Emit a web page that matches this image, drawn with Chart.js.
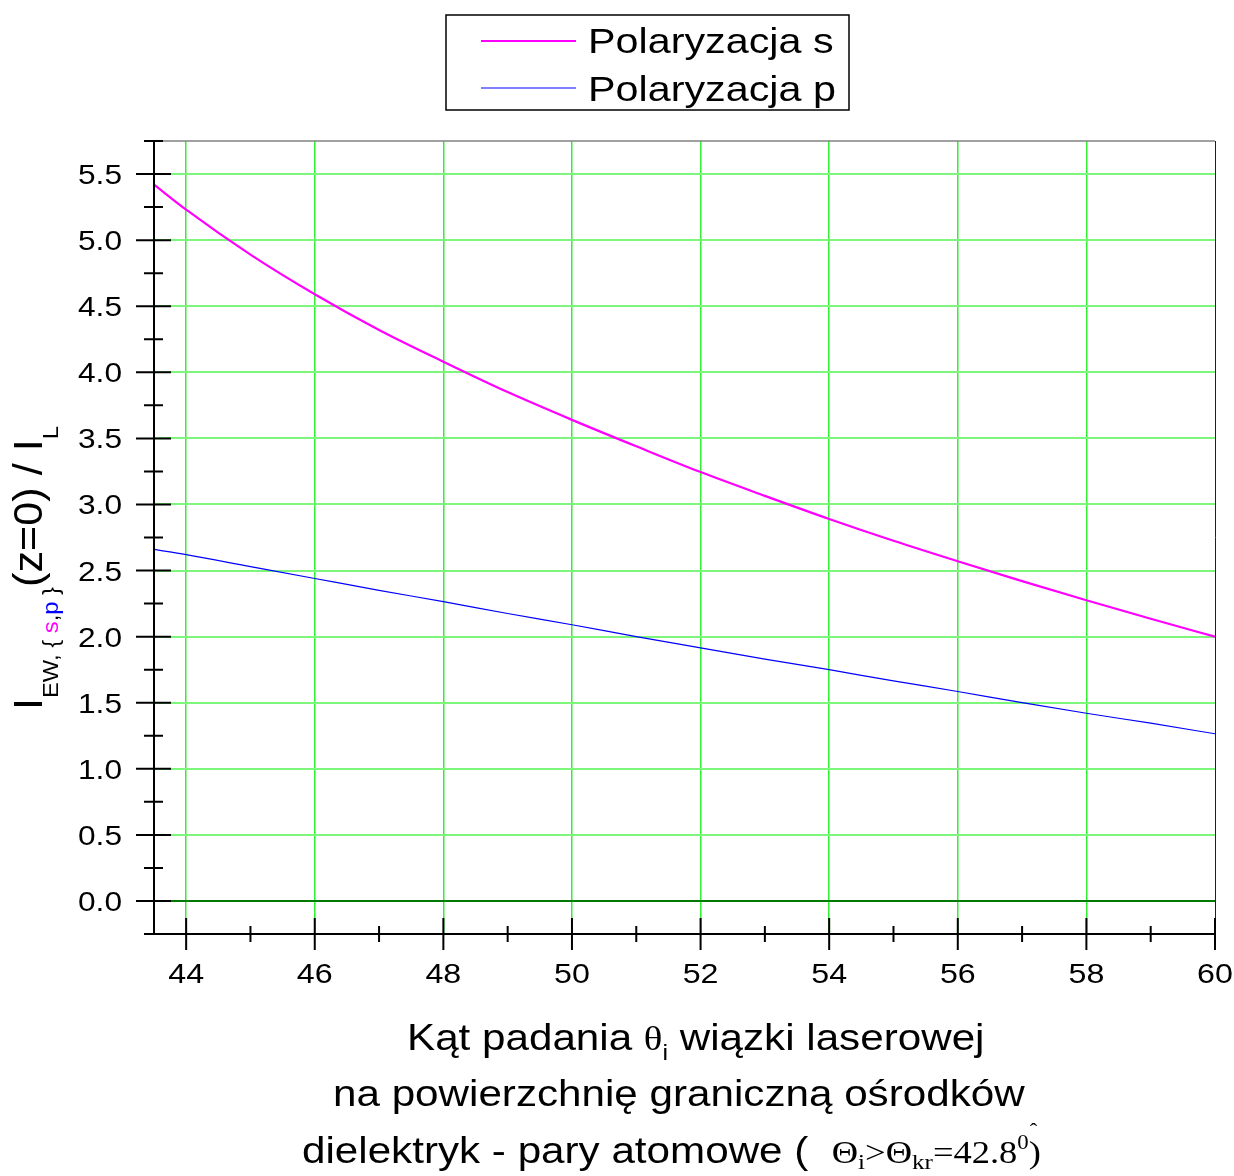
<!DOCTYPE html>
<html>
<head>
<meta charset="utf-8">
<script src="https://cdn.jsdelivr.net/npm/chart.js@4.4.1/dist/chart.umd.min.js"></script>
<style>
  html, body { margin: 0; padding: 0; background: #fff; }
  #wrap { width: 1234px; height: 1176px; }
</style>
</head>
<body>
<div id="wrap"><canvas id="chart" width="1234" height="1176"></canvas></div>
<script>
const angles = [43.5, 44, 45, 46, 47, 48, 49, 50, 51, 52, 53, 54, 55, 56, 57, 58, 59, 60];
const polS = [5.42, 5.23, 4.89, 4.59, 4.32, 4.08, 3.85, 3.64, 3.44, 3.245, 3.065, 2.89, 2.725, 2.57, 2.42, 2.275, 2.135, 2.0];
const polP = [2.66, 2.62, 2.53, 2.44, 2.35, 2.265, 2.175, 2.09, 2.0, 1.915, 1.83, 1.75, 1.665, 1.585, 1.50, 1.42, 1.345, 1.265];
const seriesNames = ['Polaryzacja s', 'Polaryzacja p'];
const xTicks = [44, 46, 48, 50, 52, 54, 56, 58, 60];
const xMinor = [45, 47, 49, 51, 53, 55, 57, 59];
const yTicks = [0, 0.5, 1, 1.5, 2, 2.5, 3, 3.5, 4, 4.5, 5, 5.5];
const yMinor = [-0.25, 0.25, 0.75, 1.25, 1.75, 2.25, 2.75, 3.25, 3.75, 4.25, 4.75, 5.25, 5.75];

const SANS = '"Liberation Sans", Arial, sans-serif';
const SERIF = '"Liberation Serif", "Times New Roman", serif';
const STRETCH = 1.14;

function runsWidth(ctx, runs) {
  let w = 0;
  for (const r of runs) { ctx.font = r[1]; w += ctx.measureText(r[0]).width; }
  return w;
}
// runs: [text, font, color, dy]; drawn with horizontal stretch sx from x
function drawRuns(ctx, runs, x, y, sx) {
  ctx.save();
  ctx.translate(x, y);
  ctx.scale(sx, 1);
  let cx = 0;
  for (const r of runs) {
    ctx.font = r[1];
    ctx.fillStyle = r[2] || '#000';
    ctx.fillText(r[0], cx, r[3] || 0);
    cx += ctx.measureText(r[0]).width;
  }
  ctx.restore();
  return x + cx * sx;
}

const decor = {
  id: 'decor',
  afterDraw(chart) {
    const { ctx, chartArea: a, scales: { x, y } } = chart;
    ctx.save();
    ctx.textBaseline = 'alphabetic';
    ctx.textAlign = 'left';
    // frame: top and right
    ctx.strokeStyle = '#808080';
    ctx.lineWidth = 1.5;
    ctx.beginPath();
    ctx.moveTo(a.left, a.top); ctx.lineTo(a.right, a.top);
    ctx.stroke();
    ctx.strokeStyle = '#202020';
    ctx.lineWidth = 1;
    ctx.beginPath();
    ctx.moveTo(a.right + 0.5, a.top); ctx.lineTo(a.right + 0.5, a.bottom);
    ctx.stroke();

    // axes and crossing ticks
    ctx.strokeStyle = '#000';
    ctx.lineWidth = 2;
    ctx.beginPath();
    ctx.moveTo(a.left, a.top); ctx.lineTo(a.left, a.bottom);
    ctx.moveTo(a.left - 10, a.bottom); ctx.lineTo(a.right + 1, a.bottom);
    for (const v of yTicks) {
      const py = y.getPixelForValue(v);
      ctx.moveTo(a.left - 18, py); ctx.lineTo(a.left + 17, py);
    }
    for (const v of yMinor) {
      const py = y.getPixelForValue(v);
      ctx.moveTo(a.left - 10, py); ctx.lineTo(a.left + 9, py);
    }
    for (const v of xTicks) {
      const px = x.getPixelForValue(v);
      ctx.moveTo(px, a.bottom - 16); ctx.lineTo(px, a.bottom + 16);
    }
    for (const v of xMinor) {
      const px = x.getPixelForValue(v);
      ctx.moveTo(px, a.bottom - 8); ctx.lineTo(px, a.bottom + 8);
    }
    ctx.stroke();

    // tick labels
    const tf = '28px ' + SANS;
    for (const v of yTicks) {
      const t = [[v.toFixed(1), tf]];
      const w = runsWidth(ctx, t) * 1.13;
      drawRuns(ctx, t, 122 - w, y.getPixelForValue(v) + 10, 1.13);
    }
    for (const v of xTicks) {
      const t = [[String(v), tf]];
      const w = runsWidth(ctx, t) * 1.15;
      drawRuns(ctx, t, x.getPixelForValue(v) - w / 2, a.bottom + 49, 1.15);
    }

    // legend
    ctx.lineWidth = 1.5;
    ctx.strokeStyle = '#000';
    ctx.strokeRect(446, 15, 403, 95);
    ctx.lineWidth = 2;
    ctx.strokeStyle = '#ff00ff';
    ctx.beginPath(); ctx.moveTo(481, 41); ctx.lineTo(576, 41); ctx.stroke();
    ctx.lineWidth = 1.2;
    ctx.strokeStyle = '#0000ff';
    ctx.beginPath(); ctx.moveTo(481, 88); ctx.lineTo(576, 88); ctx.stroke();
    const lf = '35px ' + SANS;
    drawRuns(ctx, [[seriesNames[0], lf]], 588, 53, 1.18);
    drawRuns(ctx, [[seriesNames[1], lf]], 588, 101, 1.18);

    // x axis title
    const f37 = '37px ' + SANS;
    const sub = '22px ' + SANS;
    drawRuns(ctx, [['Kąt padania ', f37], ['θ', '34px ' + SERIF], ['i', sub, '#000', 10], [' wiązki laserowej', f37]], 407, 1050, STRETCH);
    drawRuns(ctx, [['na powierzchnię graniczną ośrodków', f37]], 333, 1106, STRETCH);
    const end = drawRuns(ctx, [
      ['dielektryk - pary atomowe (  ', f37],
      ['Θ', '32px ' + SERIF], ['i', '22px ' + SERIF, '#000', 6],
      ['>', '32px ' + SERIF], ['Θ', '32px ' + SERIF], ['kr', '22px ' + SERIF, '#000', 6],
      ['=42.8', '32px ' + SERIF], ['0', '20px ' + SERIF, '#000', -14]
    ], 302, 1163, STRETCH);
    drawRuns(ctx, [['ˆ', '20px ' + SERIF]], end + 1, 1138, STRETCH);
    drawRuns(ctx, [[')', '32px ' + SERIF]], end, 1163, STRETCH);

    // y axis title (rotated), fitted to its length in the figure
    const m = '40px ' + SANS;
    const s = '22px ' + SANS;
    const yRuns = [
      ['I', m], ['EW, ', s, '#000', 16], ['{ ', s, '#000', 16], ['s', s, '#ff00ff', 16],
      [',', s, '#000', 16], ['p', s, '#0000ff', 16], [' }', s, '#000', 16],
      ['(z=0) / I', m], ['L', s, '#000', 16]
    ];
    ctx.translate(42, 568);
    ctx.rotate(-Math.PI / 2);
    const w = runsWidth(ctx, yRuns);
    const sy = 284 / w;
    drawRuns(ctx, yRuns, -w * sy / 2, 0, sy);
    ctx.restore();
  }
};

new Chart(document.getElementById('chart'), {
  type: 'line',
  data: {
    datasets: [
      { label: seriesNames[0], data: angles.map((a, i) => ({ x: a, y: polS[i] })), borderColor: '#ff00ff', borderWidth: 2.2, pointRadius: 0, cubicInterpolationMode: 'monotone', fill: false },
      { label: seriesNames[1], data: angles.map((a, i) => ({ x: a, y: polP[i] })), borderColor: '#0000ff', borderWidth: 1.2, pointRadius: 0, cubicInterpolationMode: 'monotone', fill: false }
    ]
  },
  options: {
    responsive: false,
    animation: false,
    layout: { padding: { top: 141, right: 19, left: 0, bottom: 0 } },
    plugins: { legend: { display: false }, tooltip: { enabled: false } },
    scales: {
      x: {
        type: 'linear', min: 43.5, max: 60,
        afterBuildTicks: (sc) => { sc.ticks = xTicks.map((v) => ({ value: v })); },
        afterFit: (sc) => { sc.height = 242; sc.paddingLeft = 0; sc.paddingRight = 0; },
        border: { display: false },
        grid: { drawTicks: false, color: (c) => (c.tick && c.tick.value === 60 ? 'rgba(0,0,0,0)' : '#33ee33'), lineWidth: 1.5 },
        ticks: { display: false }
      },
      y: {
        type: 'linear', min: -0.25, max: 5.75,
        afterBuildTicks: (sc) => { sc.ticks = yTicks.map((v) => ({ value: v })); },
        afterFit: (sc) => { sc.width = 154; sc.paddingTop = 0; sc.paddingBottom = 0; },
        border: { display: false },
        grid: { drawTicks: false, color: (c) => (c.tick && c.tick.value === 0 ? '#007a00' : '#7cf77c'), lineWidth: 2 },
        ticks: { display: false }
      }
    }
  },
  plugins: [decor]
});
</script>
</body>
</html>
